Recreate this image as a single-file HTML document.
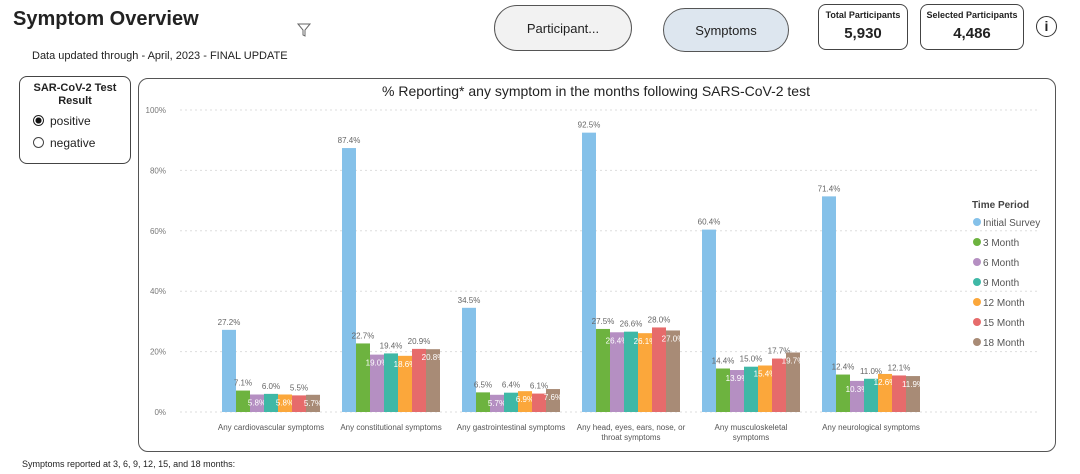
<!DOCTYPE html>
<html><head><meta charset="utf-8"><style>
body{margin:0;width:1080px;height:474px;background:#fff;font-family:"Liberation Sans","Noto Sans CJK SC",sans-serif;position:relative;overflow:hidden;color:#222}
.a{position:absolute}
.pill{position:absolute;border:1.5px solid #555;border-radius:24px;display:flex;align-items:center;justify-content:center;font-size:13px}
.card{position:absolute;border:1px solid #444;border-radius:8px;text-align:center}
</style></head><body>
<div class="a" style="left:13px;top:8px;font-size:20px;font-weight:bold">Symptom Overview</div>
<svg class="a" style="left:296px;top:22px" width="16" height="16"><path d="M2 2h12l-5 6v6l-2-1V8z" fill="none" stroke="#666" stroke-width="1"/></svg>
<div class="a" style="left:32px;top:50px;font-size:11px">Data updated through - April, 2023 - FINAL UPDATE</div>
<div class="pill" style="left:494px;top:5px;width:136px;height:44px;background:#f2f2f2">Participant...</div>
<div class="pill" style="left:663px;top:8px;width:124px;height:42px;background:#dde6ef">Symptoms</div>
<div class="card" style="left:818px;top:4px;width:88px;height:44px"><div style="font-size:9px;font-weight:bold;margin-top:5px">Total Participants</div><div style="font-size:15px;font-weight:bold;margin-top:5px">5,930</div></div>
<div class="card" style="left:920px;top:4px;width:102px;height:44px"><div style="font-size:9px;font-weight:bold;margin-top:5px">Selected Participants</div><div style="font-size:15px;font-weight:bold;margin-top:5px">4,486</div></div>
<div class="a" style="left:1036px;top:16px;width:19px;height:19px;border:1.5px solid #333;border-radius:50%;text-align:center;font-size:14px;font-weight:bold;line-height:19px">i</div>
<div class="card" style="left:19px;top:76px;width:110px;height:86px;text-align:left">
<div style="font-size:11px;font-weight:bold;text-align:center;margin-top:5px;line-height:13px">SAR-CoV-2 Test<br>Result</div>
<div style="font-size:12px;margin:6px 0 0 13px"><span style="display:inline-block;width:9px;height:9px;border:1.5px solid #222;border-radius:50%;background:radial-gradient(#111 45%,#fff 50%);vertical-align:-1px;margin-right:6px"></span>positive</div>
<div style="font-size:12px;margin:8px 0 0 13px"><span style="display:inline-block;width:9px;height:9px;border:1px solid #444;border-radius:50%;vertical-align:-1px;margin-right:6px"></span>negative</div>
</div>
<div class="a" style="left:138px;top:78px;width:916px;height:372px;border:1px solid #555;border-radius:10px"></div>
<div class="a" style="left:138px;top:83px;width:916px;text-align:center;font-size:14px">% Reporting* any symptom in the months following SARS-CoV-2 test</div>
<svg class="a" id="chart" style="left:0;top:0" width="1080" height="474"></svg>
<div class="a" style="left:22px;top:459px;font-size:9px">Symptoms reported at 3, 6, 9, 12, 15, and 18 months:</div>
<script>
const categories=[["Any cardiovascular symptoms"],["Any constitutional symptoms"],["Any gastrointestinal symptoms"],["Any head, eyes, ears, nose, or","throat symptoms"],["Any musculoskeletal","symptoms"],["Any neurological symptoms"]];
const seriesNames=["Initial Survey","3 Month","6 Month","9 Month","12 Month","15 Month","18 Month"];
const initialSurvey=[27.2,87.4,34.5,92.5,60.4,71.4];
const m3=[7.1,22.7,6.5,27.5,14.4,12.4];
const m6=[5.8,19.0,5.7,26.4,13.9,10.3];
const m9=[6.0,19.4,6.4,26.6,15.0,11.0];
const m12=[5.8,18.6,6.9,26.1,15.4,12.6];
const m15=[5.5,20.9,6.1,28.0,17.7,12.1];
const m18=[5.7,20.8,7.6,27.0,19.7,11.9];
const yTicks=[0,20,40,60,80,100];
const series=[initialSurvey,m3,m6,m9,m12,m15,m18];
const colors=["#85c1e9","#6db33f","#b58fc2","#3fb8a6","#fba73b","#e66b6b","#a88b76"];
const svg=document.getElementById('chart');const NS="http://www.w3.org/2000/svg";
function y(v){return 412-v*3.02}
function x(ci,si){return 222+ci*120+si*14}
function mk(t,a,txt){const e=document.createElementNS(NS,t);for(const k in a)e.setAttribute(k,a[k]);if(txt!=null)e.textContent=txt;svg.appendChild(e);return e}
yTicks.forEach(t=>{
const g=mk('line',{x1:180,x2:1040,y1:y(t),y2:y(t),stroke:"#ddd","stroke-dasharray":"2,3"});

const l=mk('text',{x:166,y:y(t)+3,"font-size":8,fill:"#777","text-anchor":"end"},t+"%");
});
categories.forEach((c,ci)=>{
series.forEach((s,si)=>{
const v=s[ci];
const r=mk('rect',{x:x(ci,si),y:y(v),width:14,height:412-y(v),fill:colors[si]});

const inside=si%2===0&&si>0;
const t=mk('text',{x:x(ci,si)+7,y:inside?y(v)+11:y(v)-5,"font-size":8,fill:inside?"#fff":"#666","text-anchor":"middle"},v.toFixed(1)+"%");
});
c.forEach((ln,li)=>{const t=mk('text',{x:x(ci,0)+49,y:430+li*10,"font-size":8,fill:"#555","text-anchor":"middle"},ln);
});
});
const lt=mk('text',{x:972,y:208,"font-size":10,"font-weight":"bold",fill:"#444"},"Time Period");

seriesNames.forEach((n,i)=>{
const c=mk('circle',{cx:977,cy:222+i*20,r:4,fill:colors[i]});

const t=mk('text',{x:983,y:226+i*20,"font-size":10,fill:"#555"},n);
});
</script>
</body></html>
